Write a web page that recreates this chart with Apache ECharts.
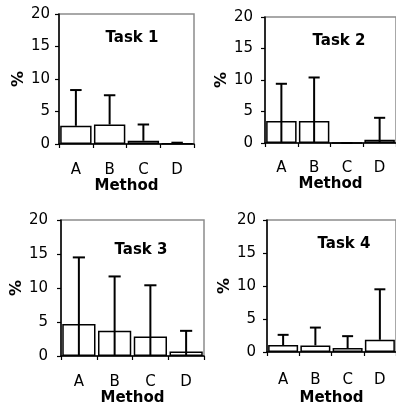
<!DOCTYPE html>
<html>
<head>
<meta charset="utf-8">
<script src="https://cdn.jsdelivr.net/npm/echarts@6/dist/echarts.min.js"></script>
<style>
html,body{margin:0;padding:0;background:#fff;}
#chart{width:396px;height:411px;}
</style>
</head>
<body>
<div id="chart"></div>
<script>
// ---- data ----
var categories = ['A', 'B', 'C', 'D'];
var yTicks = [0, 5, 10, 15, 20];
var taskTitles = ['Task 1', 'Task 2', 'Task 3', 'Task 4'];
var xAxisTitle = 'Method';
var yAxisTitle = '%';

var task1Values = [2.8, 3.0, 0.5, 0.05];
var task1Upper  = [8.3, 7.5, 3.0, 0.2];
var task2Values = [3.5, 3.5, 0, 0.5];
var task2Upper  = [9.4, 10.4, 0, 4.0];
var task3Values = [4.7, 3.7, 2.85, 0.65];
var task3Upper  = [14.5, 11.7, 10.4, 3.7];
var task4Values = [1.05, 1.0, 0.6, 1.85];
var task4Upper  = [2.6, 3.7, 2.4, 9.5];

// ---- layout ----
var panels = [
  {vals: task1Values, up: task1Upper, grid: {left: 59, top: 14, width: 135, height: 130}, title: [127, 36], nameGapX: 31, nameGapY: 29, labelMarginX: 19, labelMarginY: 9, fromZero: false},
  {vals: task2Values, up: task2Upper, grid: {left: 265, top: 17, width: 136, height: 126}, title: [334, 39], nameGapX: 28, nameGapY: 27, labelMarginX: 18, labelMarginY: 12, fromZero: true},
  {vals: task3Values, up: task3Upper, grid: {left: 61, top: 220, width: 143, height: 136}, title: [136, 248], nameGapX: 29, nameGapY: 30, labelMarginX: 19, labelMarginY: 13, fromZero: true},
  {vals: task4Values, up: task4Upper, grid: {left: 267, top: 220, width: 135, height: 132}, title: [339, 242], nameGapX: 39, nameGapY: 28, labelMarginX: 21, labelMarginY: 11, fromZero: false}
];

var FONT = 'DejaVu Sans, sans-serif';
var grids = [], xAxes = [], yAxes = [], series = [], titles = [];

panels.forEach(function (p, i) {
  grids.push(Object.assign({show: true, borderColor: '#8c8c8c', borderWidth: 1.5, backgroundColor: 'transparent'}, p.grid));
  titles.push({
    text: taskTitles[i], left: p.title[0], top: p.title[1] - 10, textAlign: 'center',
    textStyle: {fontFamily: FONT, fontWeight: 'bold', fontSize: 15, color: '#000'}
  });
  xAxes.push({
    type: 'category', gridIndex: i, data: categories,
    axisLine: {lineStyle: {color: '#000', width: 1.5}},
    axisTick: {show: true, length: 4, lineStyle: {color: '#000', width: 1.2}},
    axisLabel: {color: '#000', fontFamily: FONT, fontSize: 15, margin: p.labelMarginX},
    name: xAxisTitle, nameLocation: 'middle', nameGap: p.nameGapX,
    nameTextStyle: {color: '#000', fontFamily: FONT, fontWeight: 'bold', fontSize: 15}
  });
  yAxes.push({
    type: 'value', gridIndex: i, min: yTicks[0], max: yTicks[yTicks.length - 1], interval: yTicks[1] - yTicks[0],
    splitLine: {show: false},
    axisLine: {show: true, lineStyle: {color: '#000', width: 1.5}},
    axisTick: {show: true, length: 4, lineStyle: {color: '#000', width: 1.2}},
    axisLabel: {color: '#000', fontFamily: FONT, fontSize: 15, margin: p.labelMarginY},
    name: yAxisTitle, nameLocation: 'middle', nameGap: p.nameGapY, nameRotate: 90,
    nameTextStyle: {color: '#000', fontFamily: FONT, fontWeight: 'bold', fontSize: 16}
  });
  series.push({
    type: 'bar', xAxisIndex: i, yAxisIndex: i, data: p.vals,
    barCategoryGap: '7%',
    itemStyle: {color: '#fff', borderColor: '#000', borderWidth: 1.5},
    animation: false, silent: true
  });
  var errData = p.vals.map(function (v, k) { return [k, p.fromZero ? 0 : v, p.up[k]]; });
  series.push({
    type: 'custom', xAxisIndex: i, yAxisIndex: i, data: errData, z: 5,
    encode: {x: 0, y: [1, 2]},
    animation: false, silent: true,
    renderItem: function (params, api) {
      var x = api.value(0), lo = api.value(1), hi = api.value(2);
      var p0 = api.coord([x, lo]);
      var p1 = api.coord([x, hi]);
      var w = api.size([1, 0])[0] * 0.34;
      var st = {stroke: '#000', lineWidth: 2};
      return {
        type: 'group',
        children: [
          {type: 'line', shape: {x1: p0[0], y1: p0[1], x2: p1[0], y2: p1[1]}, style: st},
          {type: 'line', shape: {x1: p1[0] - w / 2, y1: p1[1], x2: p1[0] + w / 2, y2: p1[1]}, style: st}
        ]
      };
    }
  });
});

var chart = echarts.init(document.getElementById('chart'), null, {renderer: 'canvas'});
chart.setOption({
  animation: false,
  backgroundColor: '#fff',
  title: titles,
  grid: grids,
  xAxis: xAxes,
  yAxis: yAxes,
  series: series
});
</script>
</body>
</html>
